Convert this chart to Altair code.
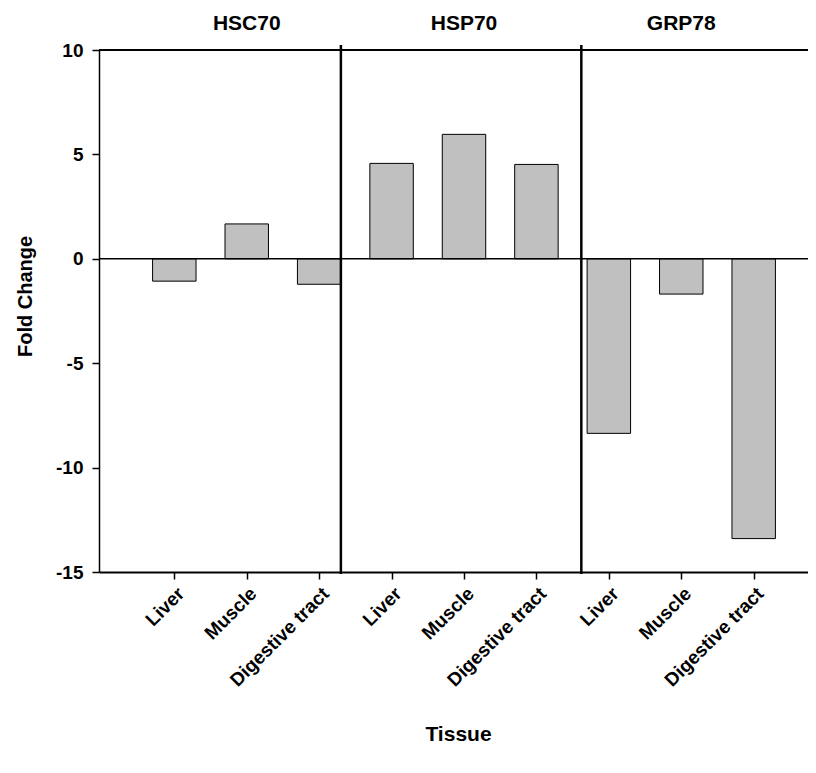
import altair as alt
import pandas as pd

genes = ["HSC70", "HSP70", "GRP78"]
tissues = ["Liver", "Muscle", "Digestive tract"]
hsc70 = [-1.07, 1.67, -1.22]
hsp70 = [4.57, 5.96, 4.52]
grp78 = [-8.36, -1.69, -13.4]
positions = [1, 2, 3, 4, 5, 6, 7, 8, 9]
separators = [3.3, 6.62]
title_positions = [2, 5, 8]
y_ticks = [-15, -10, -5, 0, 5, 10]

FONT = "Liberation Sans"

values = hsc70 + hsp70 + grp78
rows = []
for i, v in enumerate(values):
    rows.append({"gene": genes[i // 3], "tissue": tissues[i % 3],
                 "pos": positions[i], "value": v})
bars_df = pd.DataFrame(rows)

xscale = alt.Scale(domain=[-0.04, 9.75], nice=False, zero=False)
yscale = alt.Scale(domain=[-15, 10], nice=False, zero=False)

label_expr = "[" + ",".join("'" + t + "'" for t in tissues) + "][(datum.value - 1) % 3]"

xaxis = alt.Axis(values=positions, labelExpr=label_expr, title="Tissue",
                 labelAngle=315, labelAlign="right", labelBaseline="top",
                 labelPadding=5, labelFont=FONT, labelFontSize=19,
                 labelFontWeight="bold", labelColor="black",
                 tickSize=7, tickColor="black", tickWidth=1.5,
                 domainColor="black", domainWidth=2, grid=False,
                 titleFont=FONT, titleFontSize=21, titleFontWeight="bold",
                 titleColor="black", titleBaseline="alphabetic",
                 titleX=359, titleY=168, labelOverlap=False)
yaxis = alt.Axis(values=y_ticks, title="Fold Change", labelFont=FONT,
                 labelExpr="datum.value + ''",
                 labelFontSize=19, labelFontWeight="bold", labelColor="black",
                 labelPadding=9, tickSize=7, tickColor="black", tickWidth=1.5,
                 domainColor="black", domainWidth=1.5, grid=False,
                 titleFont=FONT, titleFontSize=20, titleFontWeight="bold",
                 titleColor="black", titleX=-64, titleY=246)

bars = alt.Chart(bars_df).transform_calculate(
    x1="datum.pos - 0.3", x2="datum.pos + 0.3"
).mark_bar(fill="#c0c0c0", stroke="black", strokeWidth=1).encode(
    x=alt.X("x1:Q", scale=xscale, axis=xaxis),
    x2="x2:Q",
    y=alt.Y("value:Q", scale=yscale, axis=yaxis),
    y2=alt.datum(0),
)

lines_df = pd.DataFrame({"y": [0, 10], "w": [1.5, 2]})
hlines = alt.Chart(lines_df).mark_rule(color="black").encode(
    y=alt.Y("y:Q", scale=yscale, axis=yaxis),
    strokeWidth=alt.StrokeWidth("w:Q", scale=None, legend=None),
)

sep_df = pd.DataFrame({"sep": separators})
seps = alt.Chart(sep_df).mark_rule(color="black", strokeWidth=2.5).encode(
    x=alt.X("sep:Q", scale=xscale, axis=xaxis),
    y=alt.value(-5),
    y2=alt.value(524),
)

title_df = pd.DataFrame({"gene": genes, "tpos": title_positions})
titles = alt.Chart(title_df).mark_text(
    font=FONT, fontSize=21, fontWeight="bold", color="black",
    baseline="alphabetic", align="center"
).encode(
    x=alt.X("tpos:Q", scale=xscale, axis=xaxis),
    y=alt.value(-20),
    text="gene:N",
)

chart = alt.layer(bars, hlines, seps, titles).properties(
    width=709, height=522,
    autosize=alt.AutoSizeParams(type="none"),
    padding={"left": 91, "top": 42, "right": 0, "bottom": 190},
).configure_view(strokeWidth=0)

chart.save("out.html", embed_options={"renderer": "svg", "actions": False})
